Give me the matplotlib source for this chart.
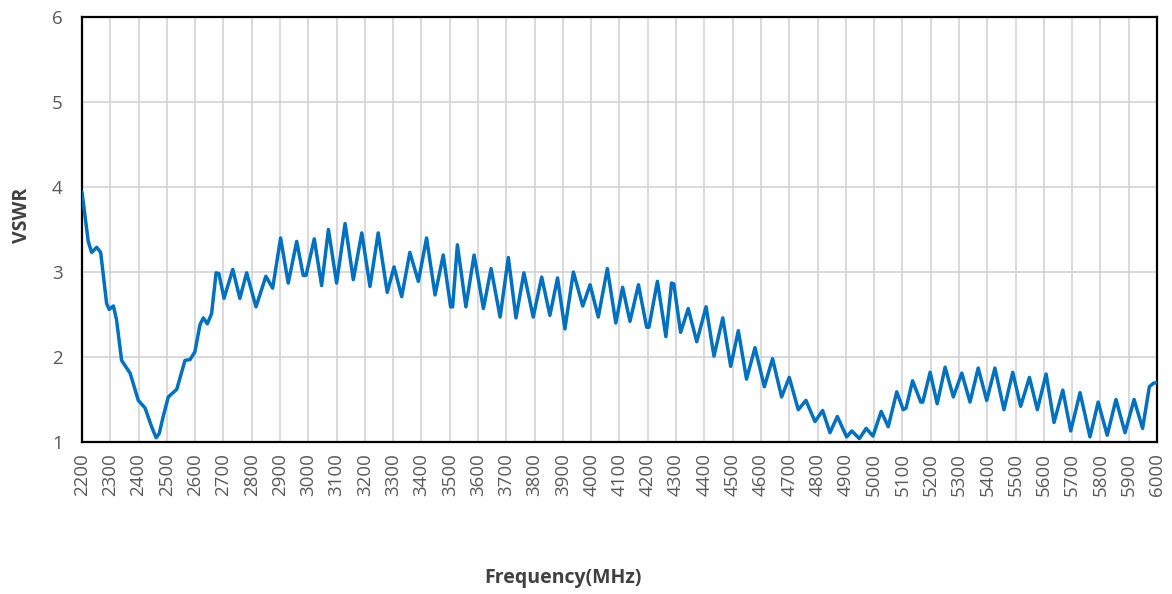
import matplotlib
matplotlib.use("Agg")
import matplotlib.pyplot as plt

freq = [2200, 2222, 2234, 2252, 2266, 2287, 2296, 2311, 2322, 2340, 2370, 2399, 2423, 2446, 2462, 2473,
        2487, 2505, 2535, 2564, 2582, 2599, 2617, 2629, 2643, 2658, 2674, 2684, 2702, 2733, 2758, 2782,
        2815, 2850, 2874, 2902, 2929, 2959, 2982, 2992, 3021, 3047, 3071, 3100, 3130, 3159, 3189, 3218,
        3247, 3279, 3303, 3330, 3359, 3389, 3418, 3448, 3477, 3503, 3510, 3527, 3557, 3586, 3619, 3646,
        3678, 3707, 3734, 3762, 3795, 3825, 3854, 3881, 3907, 3937, 3970, 3996, 4025, 4057, 4087, 4111,
        4137, 4167, 4196, 4204, 4234, 4264, 4284, 4292, 4316, 4343, 4373, 4406, 4434, 4465, 4493, 4520,
        4549, 4579, 4612, 4641, 4673, 4700, 4732, 4759, 4791, 4818, 4844, 4870, 4903, 4921, 4948, 4972,
        4996, 5025, 5050, 5080, 5103, 5113, 5136, 5165, 5172, 5198, 5223, 5251, 5280, 5310, 5339, 5368,
        5398, 5427, 5459, 5490, 5518, 5549, 5577, 5608, 5636, 5667, 5695, 5728, 5763, 5792, 5824, 5855,
        5887, 5919, 5949, 5973, 5987, 6000]
vswr = [3.94, 3.36, 3.23, 3.29, 3.23, 2.63, 2.56, 2.60, 2.44, 1.96, 1.81, 1.49, 1.40, 1.18, 1.05, 1.10,
        1.30, 1.53, 1.62, 1.96, 1.97, 2.06, 2.38, 2.46, 2.39, 2.51, 2.99, 2.98, 2.69, 3.03, 2.69, 2.99,
        2.59, 2.95, 2.81, 3.40, 2.87, 3.36, 2.96, 2.96, 3.39, 2.84, 3.50, 2.87, 3.57, 2.91, 3.46, 2.83,
        3.46, 2.76, 3.06, 2.71, 3.23, 2.89, 3.40, 2.73, 3.20, 2.59, 2.59, 3.32, 2.59, 3.20, 2.57, 3.04,
        2.47, 3.17, 2.46, 2.99, 2.47, 2.94, 2.49, 2.93, 2.33, 3.00, 2.60, 2.85, 2.47, 3.04, 2.40, 2.82,
        2.42, 2.85, 2.35, 2.35, 2.89, 2.24, 2.87, 2.86, 2.29, 2.57, 2.18, 2.59, 2.01, 2.46, 1.89, 2.31,
        1.74, 2.11, 1.65, 1.98, 1.53, 1.76, 1.38, 1.49, 1.24, 1.37, 1.11, 1.30, 1.06, 1.13, 1.04, 1.16,
        1.07, 1.36, 1.18, 1.59, 1.38, 1.40, 1.72, 1.47, 1.47, 1.82, 1.45, 1.88, 1.53, 1.81, 1.47, 1.87,
        1.49, 1.87, 1.38, 1.82, 1.42, 1.76, 1.38, 1.80, 1.23, 1.61, 1.13, 1.58, 1.06, 1.47, 1.08, 1.50,
        1.11, 1.50, 1.16, 1.65, 1.69, 1.70]

xticks = list(range(2200, 6001, 100))
yticks = [1, 2, 3, 4, 5, 6]

plt.rcParams['font.family'] = ['Open Sans', 'DejaVu Sans']

fig = plt.figure(figsize=(11.72, 5.94), dpi=100)
ax = fig.add_axes([82/1172, 1 - 442/594, (1157-82)/1172, (442-17)/594])

ax.plot(freq, vswr, color='#0070C0', lw=2.5, solid_joinstyle='round',
        solid_capstyle='round', zorder=3)

ax.set_xlim(2200, 6000)
ax.set_ylim(1, 6)
ax.set_xticks(xticks)
ax.set_xticklabels([str(t) for t in xticks], rotation=90)
ax.set_yticks(yticks)
ax.grid(True, color='#D3D3D3', lw=1.2, zorder=0)
ax.tick_params(axis='both', length=0, colors='#595959', labelsize=13.5)
ax.tick_params(axis='x', pad=8)
ax.tick_params(axis='y', pad=14)
for s in ax.spines.values():
    s.set_color('black')
    s.set_linewidth(1.6)

fig.text(22/1172, 1 - 215/594, 'VSWR', fontsize=14, fontweight='bold', color='#404040',
         rotation=90, ha='center', va='center')
fig.text(563/1172, 1 - 578/594, 'Frequency(MHz)', fontsize=14, fontweight='bold',
         color='#404040', ha='center', va='center')

fig.savefig('out.png', dpi=100)
